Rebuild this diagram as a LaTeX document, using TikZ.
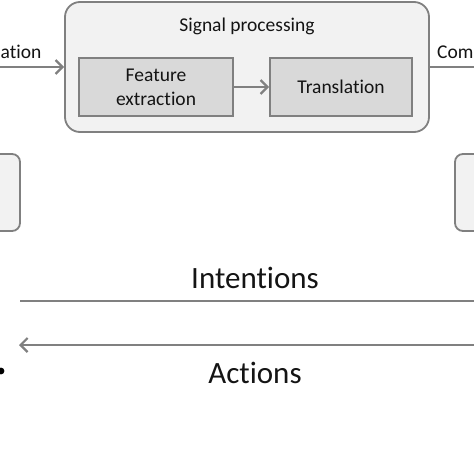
\documentclass[tikz,border=0pt]{standalone}
\usepackage{fontspec}
\setmainfont{Carlito}[Ligatures=NoCommon]
\usetikzlibrary{arrows.meta}
\definecolor{edgegray}{HTML}{808080}
\definecolor{lightfill}{HTML}{F2F2F2}
\definecolor{darkfill}{HTML}{D9D9D9}
\definecolor{textcol}{HTML}{141414}
\tikzset{
  outerbox/.style={draw=edgegray, line width=1.8pt, fill=lightfill, rounded corners=15pt, inner sep=0pt},
  innerbox/.style={draw=edgegray, line width=1.8pt, fill=darkfill, inner sep=0pt, align=center, font=\fontsize{19.5}{24}\selectfont, text=textcol},
  smalltext/.style={inner sep=0pt, font=\fontsize{19.5}{24}\selectfont, text=textcol},
  bigtext/.style={inner sep=0pt, font=\fontsize{31}{36}\selectfont, text=textcol, anchor=base},
  conn/.style={draw=edgegray, line width=2.2pt},
  arr/.style={conn, -{Straight Barb[length=7pt, width=14pt, line width=2.2pt]}},
}
\begin{document}
\begin{tikzpicture}[x=1pt, y=-1pt]
\useasboundingbox[fill=white] (0,0) rectangle (474,474);
% outer signal processing box
\node[outerbox, minimum width=364pt, minimum height=130pt] (sp) at (247,67) {};
\node[smalltext, anchor=base] (sptitle) at (247,31) {Signal processing};
\node[innerbox, minimum width=154pt, minimum height=58pt] (fe) at (156,87) {Feature\\extraction};
\node[innerbox, minimum width=142pt, minimum height=58pt] (tr) at (341,87) {Translation};
\draw[arr] (fe.east) -- (tr.west);
% left input
\coordinate (lin) at (-5,67);
\draw[arr] (lin) -- (lin -| sp.west);
\node[smalltext, anchor=base west] (acq) at (0.5,58) {ation};
% right output
\coordinate (rout) at (480,67);
\draw[conn] (sp.east |- rout) -- (rout);
\node[smalltext, anchor=base west] (com) at (437,58) {Com};
% side boxes
\node[outerbox, rounded corners=8pt, minimum width=50pt, minimum height=77pt] (lbox) at (-5,192.5) {};
\node[outerbox, rounded corners=8pt, minimum width=50pt, minimum height=77pt] (rbox) at (480,192.5) {};
% intentions / actions
\node[bigtext] (int) at (255,288) {Intentions};
\coordinate (ia) at (20,301);
\coordinate (ib) at (480,301);
\draw[conn] (ia) -- (ib);
\coordinate (aa) at (480,345);
\coordinate (ab) at (19,345);
\draw[arr] (aa) -- (ab);
\node[bigtext] (act) at (255,383) {Actions};
\fill[black] (1,371) circle (3.4pt);
\end{tikzpicture}
\end{document}
